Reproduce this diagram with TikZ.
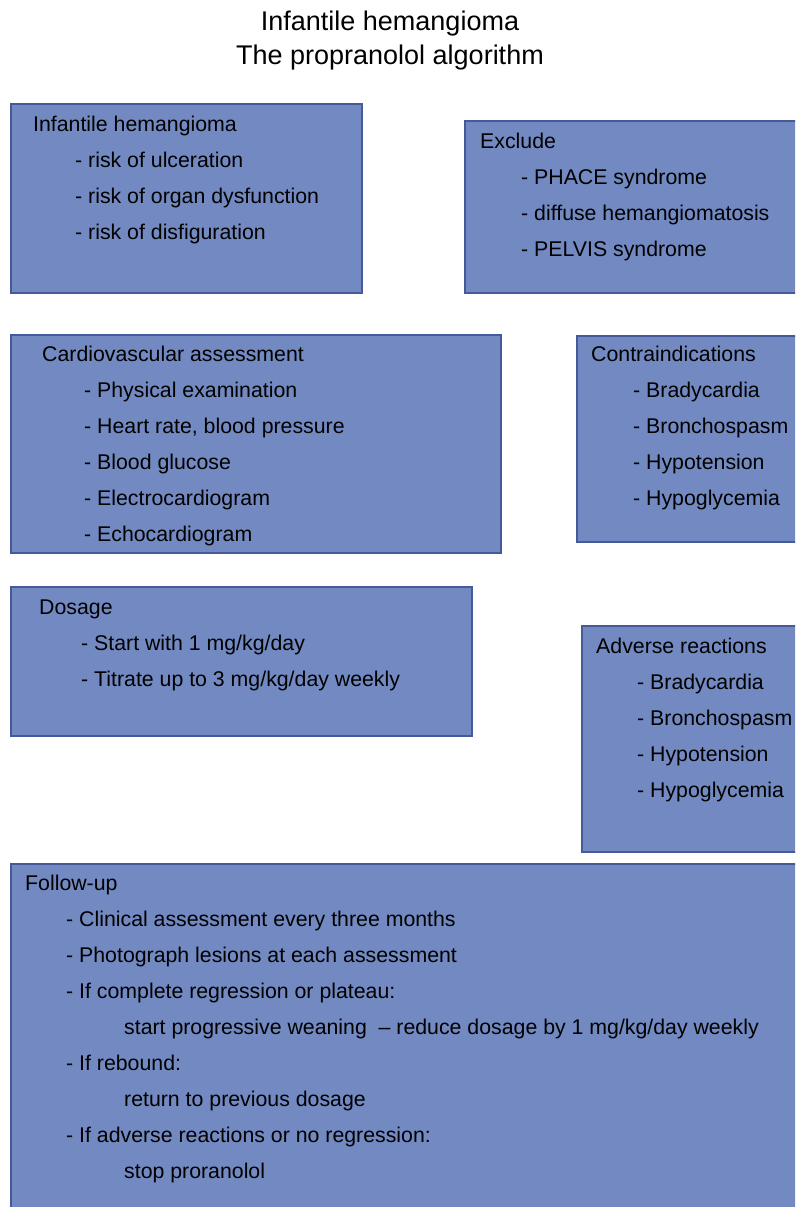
\documentclass[tikz,border=0pt]{standalone}
\usepackage{fontspec}
\setmainfont{Liberation Sans}
\definecolor{boxfill}{HTML}{7289C1}
\definecolor{boxline}{HTML}{46599B}
\tikzset{
  panel/.style={fill=boxfill, draw=boxline, line width=1.5pt},
  item/.style={anchor=base west, inner sep=0pt, font=\fontsize{21.3}{24}\selectfont},
  headline/.style={anchor=base, inner sep=0pt, font=\fontsize{27}{32}\selectfont},
}

\begin{document}
\begin{tikzpicture}[x=1pt,y=-1pt]
\useasboundingbox (0,0) rectangle (795,1207);
\clip (0,0) rectangle (795,1207);

\node[headline] (head1) at (390,31) {Infantile hemangioma};
\node[headline] (head2) at (390,64) {The propranolol algorithm};

% boxes
\draw[panel] (11,104) rectangle (362,293);
\draw[panel] (465,121) rectangle (800,293);
\draw[panel] (11,335) rectangle (501,553);
\draw[panel] (577,336) rectangle (800,542);
\draw[panel] (11,587) rectangle (472,736);
\draw[panel] (582,626) rectangle (800,852);
\draw[panel] (11,864) rectangle (800,1215);

% infantile hemangioma
\node[item] (ih) at (33,131) {Infantile hemangioma};
\node[item] (ih1) at (75,167) {- risk of ulceration};
\node[item] (ih2) at (75,203) {- risk of organ dysfunction};
\node[item] (ih3) at (75,239) {- risk of disfiguration};

% exclude
\node[item] (ex) at (480,148) {Exclude};
\node[item] (ex1) at (521,184) {- PHACE syndrome};
\node[item] (ex2) at (521,220) {- diffuse hemangiomatosis};
\node[item] (ex3) at (521,256) {- PELVIS syndrome};

% cardiovascular assessment
\node[item] (cv) at (42,361) {Cardiovascular assessment};
\node[item] (cv1) at (84,397) {- Physical examination};
\node[item] (cv2) at (84,433) {- Heart rate, blood pressure};
\node[item] (cv3) at (84,469) {- Blood glucose};
\node[item] (cv4) at (84,505) {- Electrocardiogram};
\node[item] (cv5) at (84,541) {- Echocardiogram};

% contraindications
\node[item] (ci) at (591,361) {Contraindications};
\node[item] (ci1) at (633,397) {- Bradycardia};
\node[item] (ci2) at (633,433) {- Bronchospasm};
\node[item] (ci3) at (633,469) {- Hypotension};
\node[item] (ci4) at (633,505) {- Hypoglycemia};

% dosage
\node[item] (ds) at (39,614) {Dosage};
\node[item] (ds1) at (81,650) {- Start with 1 mg/kg/day};
\node[item] (ds2) at (81,686) {- Titrate up to 3 mg/kg/day weekly};

% adverse reactions
\node[item] (ar) at (596,653) {Adverse reactions};
\node[item] (ar1) at (637,689) {- Bradycardia};
\node[item] (ar2) at (637,725) {- Bronchospasm};
\node[item] (ar3) at (637,761) {- Hypotension};
\node[item] (ar4) at (637,797) {- Hypoglycemia};

% follow-up
\node[item] (fu) at (25,890) {Follow-up};
\node[item] (fu1) at (66,926) {- Clinical assessment every three months};
\node[item] (fu2) at (66,962) {- Photograph lesions at each assessment};
\node[item] (fu3) at (66,998) {- If complete regression or plateau:};
\node[item] (fu4) at (124,1034) {start progressive weaning \ -- reduce dosage by 1 mg/kg/day weekly};
\node[item] (fu5) at (66,1070) {- If rebound:};
\node[item] (fu6) at (124,1106) {return to previous dosage};
\node[item] (fu7) at (66,1142) {- If adverse reactions or no regression:};
\node[item] (fu8) at (124,1178) {stop proranolol};
\end{tikzpicture}
\end{document}
